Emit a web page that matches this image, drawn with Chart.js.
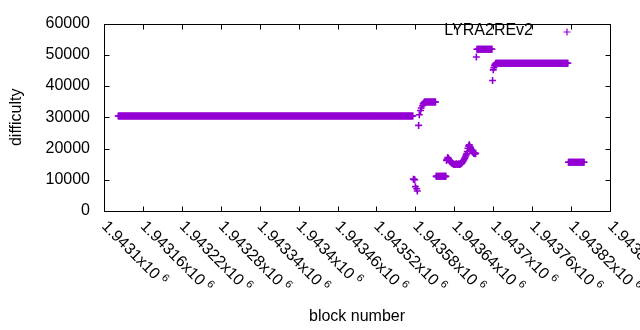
<!DOCTYPE html>
<html>
<head>
<meta charset="utf-8">
<script src="https://cdn.jsdelivr.net/npm/chart.js@4.4.1/dist/chart.umd.min.js"></script>
<style>
  html, body { margin: 0; padding: 0; background: #fff; }
  #wrap { width: 640px; height: 330px; }
</style>
</head>
<body>
<div id="wrap"><canvas id="chart" width="640" height="330"></canvas></div>
<script>
// flat stretches: difficulty stays the same from block runFrom[i] to runTo[i]
const runFrom = [1943122, 1943594, 1943612, 1943675, 1943704, 1943816];
const runTo   = [1943576, 1943611, 1943627, 1943698, 1943815, 1943840];
const runDiff = [30400,   34900,   11100,   51800,   47300,   15600];

// single blocks in between the flat stretches
const pointBlocks = [
    1943577, 1943578, 1943579, 1943580, 1943582, 1943583,
    1943585, 1943586, 1943588, 1943589, 1943591, 1943592, 1943593,
    1943628, 1943629, 1943630, 1943631, 1943632, 1943633, 1943634, 1943635,
    1943636, 1943637, 1943638, 1943639, 1943640, 1943641, 1943642, 1943643,
    1943644, 1943645, 1943646, 1943647, 1943648, 1943649, 1943650, 1943651,
    1943652, 1943653, 1943654, 1943655, 1943656, 1943657, 1943658, 1943659,
    1943660, 1943661, 1943662, 1943663, 1943664, 1943665, 1943666, 1943667,
    1943668, 1943669, 1943670, 1943671, 1943672, 1943673,
    1943674, 1943699, 1943700, 1943701, 1943702, 1943703
];
const pointDiffs = [
    10200, 10100, 10000, 7800, 7100, 6400,
    27400, 30800, 32200, 33000, 33700, 34300, 34600,
    16200, 16600, 17100, 16800, 16400, 16000, 15800, 15600,
    15400, 15200, 15100, 15000, 14900, 15000, 14900, 15100,
    15000, 14900, 15000, 15100, 14900, 15000, 15100, 15200,
    15500, 15800, 16100, 16500, 16900, 17300, 17800, 18300,
    19000, 20100, 20800, 21200, 20700, 20200, 19800, 19400,
    19000, 18700, 18400, 18600, 18300, 18500,
    49300, 41800, 45200, 45900, 46600, 47000
];

const xTickLabels = ['1.9431', '1.94316', '1.94322', '1.94328', '1.94334', '1.9434', '1.94346',
    '1.94352', '1.94358', '1.94364', '1.9437', '1.94376', '1.94382', '1.94388'];

const PURPLE = '#9400d3';
const FONT = '"Liberation Sans", Arial, sans-serif';

const points = [];
runFrom.forEach((from, i) => {
    for (let b = from; b <= runTo[i]; b++) points.push({ x: b, y: runDiff[i] });
});
pointBlocks.forEach((b, i) => points.push({ x: b, y: pointDiffs[i] }));

// gnuplot look: frame, inward ticks on all sides, slanted x labels, key at top right
const gnuplotFrame = {
    id: 'gnuplotFrame',
    afterDraw(chart) {
        const { ctx, chartArea: a } = chart;
        const xs = chart.scales.x, ys = chart.scales.y;
        const L = Math.round(a.left) + 0.5, R = Math.round(a.right) + 0.5;
        const T = Math.round(a.top) + 0.5, B = Math.round(a.bottom) + 0.5;
        const tick = 5;
        ctx.save();
        ctx.strokeStyle = '#000';
        ctx.lineWidth = 1;
        ctx.beginPath();
        xs.ticks.forEach(t => {
            const px = Math.round(xs.getPixelForValue(t.value)) + 0.5;
            ctx.moveTo(px, B); ctx.lineTo(px, B - tick);
            ctx.moveTo(px, T); ctx.lineTo(px, T + tick);
        });
        ys.ticks.forEach(t => {
            const py = Math.round(ys.getPixelForValue(t.value)) + 0.5;
            ctx.moveTo(L, py); ctx.lineTo(L + tick, py);
            ctx.moveTo(R, py); ctx.lineTo(R - tick, py);
        });
        ctx.stroke();
        ctx.strokeRect(L, T, R - L, B - T);

        ctx.fillStyle = '#000';
        xs.ticks.forEach((t, i) => {
            const px = xs.getPixelForValue(t.value);
            ctx.save();
            ctx.translate(px, a.bottom + 13);
            ctx.rotate(Math.PI / 4);
            ctx.textAlign = 'left';
            ctx.textBaseline = 'middle';
            ctx.font = '16px ' + FONT;
            const main = xTickLabels[i] + 'x10';
            ctx.fillText(main, 0, 0);
            const w = ctx.measureText(main).width;
            ctx.font = '11px ' + FONT;
            ctx.fillText('6', w + 4, -5);
            ctx.restore();
        });

        // key
        ctx.font = '16px ' + FONT;
        ctx.textAlign = 'right';
        ctx.textBaseline = 'middle';
        ctx.fillText(chart.data.datasets[0].label, 533, 31);
        ctx.strokeStyle = PURPLE;
        ctx.lineWidth = 1.2;
        ctx.beginPath();
        ctx.moveTo(563.5, 32); ctx.lineTo(570.5, 32);
        ctx.moveTo(567, 28.5); ctx.lineTo(567, 35.5);
        ctx.stroke();
        ctx.restore();
    }
};

new Chart(document.getElementById('chart'), {
    type: 'scatter',
    data: {
        datasets: [{
            label: 'LYRA2REv2',
            data: points,
            pointStyle: 'cross',
            pointRadius: 3.5,
            pointBorderWidth: 1.6,
            borderColor: PURPLE,
            backgroundColor: PURPLE
        }]
    },
    options: {
        responsive: false,
        animation: false,
        events: [],
        layout: { padding: { top: 19, right: 30, bottom: 0, left: 0 } },
        plugins: {
            legend: { display: false },
            tooltip: { enabled: false }
        },
        scales: {
            x: {
                type: 'linear',
                min: 1943100,
                max: 1943880,
                ticks: { stepSize: 60, display: false, autoSkip: false },
                grid: { display: false, drawTicks: false },
                border: { display: false },
                title: {
                    display: true,
                    text: 'block number',
                    color: '#000',
                    font: { family: FONT, size: 16 },
                    padding: { top: 0, bottom: 4 }
                },
                afterFit: s => { s.height = 119; }
            },
            y: {
                min: 0,
                max: 60000,
                ticks: {
                    stepSize: 10000,
                    padding: 14,
                    color: '#000',
                    font: { family: FONT, size: 16 },
                    callback: v => String(v)
                },
                grid: { display: false, drawTicks: false },
                border: { display: false },
                title: {
                    display: true,
                    text: 'difficulty',
                    color: '#000',
                    font: { family: FONT, size: 16 },
                    padding: { top: 7, bottom: 0 }
                },
                afterFit: s => { s.width = 104; }
            }
        }
    },
    plugins: [gnuplotFrame]
});
</script>
</body>
</html>
